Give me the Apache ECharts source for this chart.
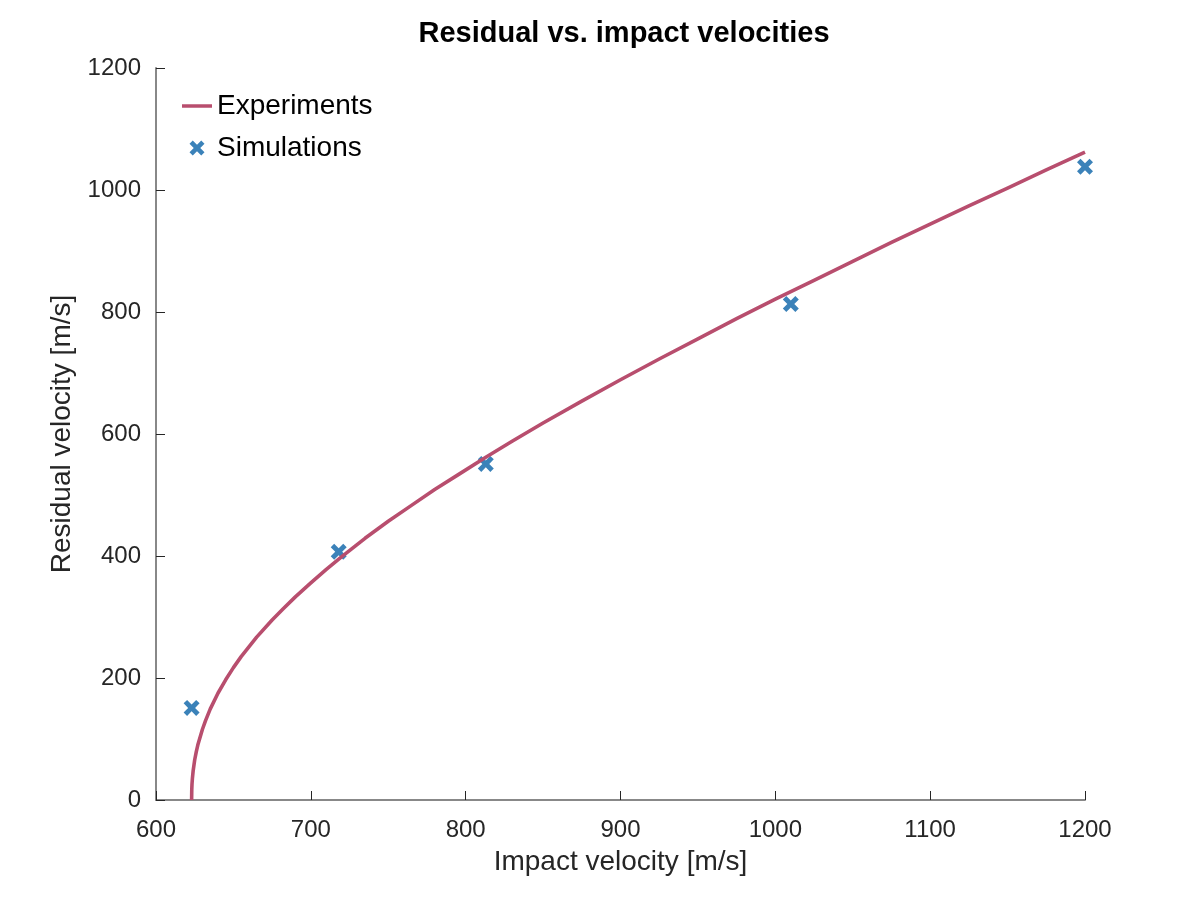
<!DOCTYPE html>
<html>
<head>
<meta charset="utf-8">
<script src="https://cdn.jsdelivr.net/npm/echarts@6/dist/echarts.min.js"></script>
<style>html,body{margin:0;padding:0;background:#fff}#c{width:1200px;height:900px}</style>
</head>
<body>
<div id="c"></div>
<script>
// Experiments curve
const impactExp = [623, 623.1, 623.25, 623.5, 624, 625, 626, 627, 630, 632, 635, 640, 645, 650, 655, 660, 665, 675, 682, 690, 700, 710, 720, 735, 750, 765, 780, 795, 813, 830, 850, 875, 900, 925, 950, 975, 1000, 1025, 1050, 1075, 1100, 1125, 1150, 1175, 1200];
const residualExp = [0, 17, 26, 35, 48, 66, 79, 90, 116, 130, 149, 175, 197, 217, 235, 251, 267, 295, 313, 333, 356, 378, 399, 429, 457, 483, 509, 533, 562, 588, 618, 654, 689, 723, 756, 789, 821, 852, 883, 914, 944, 974, 1003, 1033, 1062];
// Simulations
const impactSim = [623, 718, 813, 1010, 1200];
const residualSim = [151, 407, 551, 813, 1038];

const seriesNames = ['Experiments', 'Simulations'];
const titleText = 'Residual vs. impact velocities';
const xName = 'Impact velocity [m/s]';
const yName = 'Residual velocity [m/s]';

const expData = impactExp.map((v, i) => [v, residualExp[i]]);
const simData = impactSim.map((v, i) => [v, residualSim[i]]);

const xSym = 'path://M0,2.6 L2.6,0 L6,3.4 L9.4,0 L12,2.6 L8.6,6 L12,9.4 L9.4,12 L6,8.6 L2.6,12 L0,9.4 L3.4,6 Z';
const lineIcon = 'path://M0,0 L30,0 L30,3.5 L0,3.5 Z';
const font = 'Liberation Sans, Arial, Helvetica, sans-serif';
const lineColor = '#b84e6e';
const simColor = '#3b82b9';

const chart = echarts.init(document.getElementById('c'), null, {renderer: 'canvas'});
chart.setOption({
  animation: false,
  backgroundColor: '#ffffff',
  textStyle: {fontFamily: font},
  title: {
    text: titleText,
    left: 619, top: 14, textAlign: 'center',
    textStyle: {fontSize: 29, fontWeight: 'bold', color: '#000', fontFamily: font}
  },
  legend: {
    orient: 'vertical',
    left: 177, top: 87,
    itemWidth: 30, itemHeight: 15, itemGap: 14,
    textStyle: {fontSize: 28, color: '#000', fontFamily: font},
    data: [
      {name: seriesNames[0], icon: lineIcon, itemStyle: {color: lineColor}},
      {name: seriesNames[1], icon: xSym, itemStyle: {color: simColor}}
    ]
  },
  grid: {left: 156, right: 115, top: 68, bottom: 100, containLabel: false},
  xAxis: {
    type: 'value', min: 600, max: 1200, interval: 100,
    name: xName, nameLocation: 'middle', nameGap: 48,
    nameTextStyle: {fontSize: 28, color: '#262626', fontFamily: font},
    axisLine: {show: true, lineStyle: {color: '#888888', width: 2}},
    axisTick: {show: true, inside: true, length: 9, lineStyle: {color: '#262626', width: 1}},
    axisLabel: {fontSize: 24, color: '#262626', margin: 18, fontFamily: font, formatter: v => String(v)},
    splitLine: {show: false}
  },
  yAxis: {
    type: 'value', min: 0, max: 1200, interval: 200,
    name: yName, nameLocation: 'middle', nameGap: 78,
    nameTextStyle: {fontSize: 28, color: '#262626', fontFamily: font},
    axisLine: {show: true, lineStyle: {color: '#888888', width: 2}},
    axisTick: {show: true, inside: true, length: 9, lineStyle: {color: '#262626', width: 1}},
    axisLabel: {fontSize: 24, color: '#262626', margin: 15, fontFamily: font, formatter: v => String(v)},
    splitLine: {show: false}
  },
  series: [
    {
      name: seriesNames[0], type: 'line', data: expData,
      symbol: 'none', smooth: false,
      lineStyle: {color: lineColor, width: 3.6, join: 'round'},
      itemStyle: {color: lineColor}
    },
    {
      name: seriesNames[1], type: 'scatter', data: simData,
      symbol: xSym, symbolSize: 16,
      itemStyle: {color: simColor, opacity: 1}
    }
  ]
});
</script>
</body>
</html>
